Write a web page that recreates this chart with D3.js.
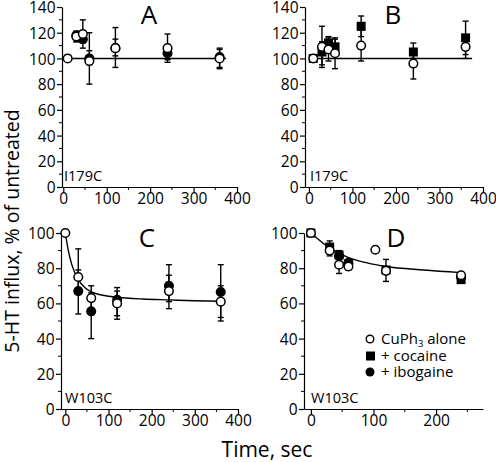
<!DOCTYPE html>
<html><head><meta charset="utf-8">
<script src="https://cdn.jsdelivr.net/npm/d3@7"></script>
<style>
body{margin:0;background:#fff;}
svg{display:block;font-family:"Open Sans",sans-serif;}
</style></head>
<body><svg id="c" width="496" height="462"></svg>
<script>
// ---------- DATA ----------
// Panel A: I179C, CuPh3 alone (open) and + ibogaine (filled circle)
const timesA = [10, 30, 45, 60, 120, 240, 360];
const aloneA   = [100, 117, 119, 98, 108, 108, 100];
const aloneA_lo= [null,113, 112, 80, 93, 99, 93];
const aloneA_hi= [null,121, 130, 120,124,119,107];
const timesAi = [30, 45, 60, 120, 240, 360];
const ibogA    = [118, 115, 100, 108, 104, 101];
const ibogA_lo = [113, 108, 95, 102, 97, 92];
const ibogA_hi = [121, 121, 106, 115, 108, 108];
const fitA_t = [10, 375];
const fitA_v = [100, 100];

// Panel B: I179C, CuPh3 alone (open) and + cocaine (filled square)
const timesB = [10, 30, 45, 60, 120, 240, 360];
const aloneB   = [100, 109, 107, 104, 110, 96, 109];
const aloneB_lo= [null, 95, 98, 92, 98, 84, 100];
const aloneB_hi= [null, 125, 116, 115, 122, 104, 118];
const cocB     = [100, 105, 112, 109, 125, 105, 116];
const cocB_lo  = [null, 93, 106, 103, 117, 100, 103];
const cocB_hi  = [null, 113, 117, 116, 133, 112, 129];
const fitB_t = [10, 375];
const fitB_v = [100, 100];

// Panel C: W103C, CuPh3 alone (open) and + ibogaine (filled circle)
const timesC = [0, 30, 60, 120, 240, 360];
const aloneC    = [100, 75, 63, 60, 67, 61];
const aloneC_lo = [null, 67, 57, 51, 57, 50];
const aloneC_hi = [null, 91, 70, 67, 76, 70];
const timesCi = [30, 60, 120, 240, 360];
const ibogC    = [67, 55.5, 62, 70, 66.5];
const ibogC_lo = [54, 40, 53, 61, 52];
const ibogC_hi = [79, 66, 69, 82, 82];
const fitC_t = [0, 7, 15, 30, 45, 60, 90, 120, 180, 240, 300, 360];
const fitC_v = [100, 90, 82, 73.5, 69, 66.5, 64.5, 63.5, 62.5, 62, 61.5, 61.2];

// Panel D: W103C, alone (open), + cocaine (square), + ibogaine (filled circle)
const timesD = [0, 30, 45, 60, 103, 120, 240];
const aloneD    = [100, 90, 82, 81, 90.5, 78.5, 76];
const aloneD_lo = [null, 87, 77, 79, null, 72.5, null];
const aloneD_hi = [null, 93, 86, 83, null, 85, null];
const timesDc = [0, 30, 45, 60, 120, 240];
const cocD    = [100, 92, 87.5, 82.5, 79, 73.5];
const cocD_lo = [null, 89, 85, null, null, null];
const cocD_hi = [null, 95.5, 90, null, null, null];
const timesDi = [45, 60, 240];
const ibogD   = [87, 83, 75];
const fitD_t = [0, 15, 30, 45, 60, 90, 120, 180, 240];
const fitD_v = [100, 95.5, 91.5, 88.5, 86, 83, 81, 79, 77.5];

const yTicksAB = [0, 20, 40, 60, 80, 100, 120, 140];
const yTicksCD = [0, 20, 40, 60, 80, 100];
const xTicks400 = [0, 100, 200, 300, 400];
const xTicks200 = [0, 100, 200];

const legendLabels = ["CuPh", "+ cocaine", "+ ibogaine"];

// ---------- DRAW ----------
const svg = d3.select("#c");
const TICKFONT = 15.5;

function pts(t, v, lo, hi){ return t.map((d,i)=>({t:d, v:v[i], lo: lo?lo[i]:null, hi: hi?hi[i]:null})); }

function panel(cfg){
  const g = svg.append("g");
  const x = d3.scaleLinear().domain(cfg.xd).range(cfg.xr);
  const y = d3.scaleLinear().domain(cfg.yd).range(cfg.yr);
  const ya = d3.axisLeft(y).tickValues(cfg.yTicks).tickSize(5).tickSizeOuter(0).tickPadding(1.5);
  const yg = g.append("g").attr("transform",`translate(${cfg.xr[0]},0)`).call(ya);
  const yMinor = d3.range(cfg.yd[0]+10, cfg.yd[1], 20);
  g.selectAll(".ym").data(yMinor).join("line")
    .attr("x1",cfg.xr[0]-3).attr("x2",cfg.xr[0]).attr("y1",d=>y(d)).attr("y2",d=>y(d))
    .attr("stroke","#000").attr("stroke-width",1);
  const xa = d3.axisBottom(x).tickValues(cfg.xTicks).tickSize(5).tickSizeOuter(0).tickPadding(1);
  const xg = g.append("g").attr("transform",`translate(0,${cfg.yr[0]})`).call(xa);
  const xMinor = cfg.xTicks.slice(0,-1).map(d=>d+50).concat(cfg.extraMinor||[]);
  g.selectAll(".xm").data(xMinor).join("line")
    .attr("x1",d=>x(d)).attr("x2",d=>x(d)).attr("y1",cfg.yr[0]).attr("y2",cfg.yr[0]+3)
    .attr("stroke","#000").attr("stroke-width",1);
  [yg,xg].forEach(a=>{
    a.selectAll("path,line").attr("stroke","#000").attr("stroke-width",1.2);
    a.selectAll("text").attr("font-size",TICKFONT).attr("fill","#000").attr("font-family","Open Sans");
  });
  yg.selectAll("text").attr("dy","0.36em");
  g.append("path").datum(cfg.fit).attr("fill","none").attr("stroke","#000").attr("stroke-width",1.4)
    .attr("d", d3.line().x(d=>x(d[0])).y(d=>y(d[1])).curve(d3.curveMonotoneX));
  cfg.series.forEach(s=>{
    const eb = s.data.filter(d=>d.lo!=null);
    const eg = g.append("g").attr("stroke","#000").attr("stroke-width",1.4);
    eb.forEach(d=>{
      eg.append("line").attr("x1",x(d.t)).attr("x2",x(d.t)).attr("y1",y(d.lo)).attr("y2",y(d.hi));
      eg.append("line").attr("x1",x(d.t)-3).attr("x2",x(d.t)+3).attr("y1",y(d.lo)).attr("y2",y(d.lo));
      eg.append("line").attr("x1",x(d.t)-3).attr("x2",x(d.t)+3).attr("y1",y(d.hi)).attr("y2",y(d.hi));
    });
  });
  cfg.series.forEach(s=>{
    s.data.forEach(d=>{
      if(s.shape==="square"){
        g.append("rect").attr("x",x(d.t)-4.5).attr("y",y(d.v)-4.5).attr("width",9).attr("height",9).attr("fill","#000");
      } else {
        g.append("circle").attr("cx",x(d.t)).attr("cy",y(d.v)).attr("r",4.3)
          .attr("fill",s.open?"#fff":"#000").attr("stroke","#000").attr("stroke-width",1.5);
      }
    });
  });
  g.append("text").attr("x",cfg.letter[0]).attr("y",cfg.letter[1]).attr("font-size",26)
    .attr("text-anchor","middle").attr("fill","#000").text(cfg.name);
  g.append("text").attr("x",cfg.mut[0]).attr("y",cfg.mut[1]).attr("font-size",cfg.mutSize)
    .attr("fill","#000").text(cfg.mutName);
  return {x,y,g};
}

panel({xd:[-3,400], xr:[62,237], yd:[0,140], yr:[187,7], yTicks:yTicksAB, xTicks:xTicks400,
  fit: fitA_t.map((t,i)=>[t,fitA_v[i]]),
  series:[
    {shape:"circle", open:false, data:pts(timesAi, ibogA, ibogA_lo, ibogA_hi)},
    {shape:"circle", open:true, data:pts(timesA, aloneA, aloneA_lo, aloneA_hi)}
  ], name:"A", letter:[149,24], mutName:"I179C", mutSize:14.5, mut:[64,181]});

panel({xd:[-9,400], xr:[305,483], yd:[0,140], yr:[187,7], yTicks:yTicksAB, xTicks:xTicks400,
  fit: fitB_t.map((t,i)=>[t,fitB_v[i]]),
  series:[
    {shape:"square", data:pts(timesB, cocB, cocB_lo, cocB_hi)},
    {shape:"circle", open:true, data:pts(timesB, aloneB, aloneB_lo, aloneB_hi)}
  ], name:"B", letter:[393,24], mutName:"I179C", mutSize:14.5, mut:[310,181]});

panel({xd:[-10,400], xr:[61,238], yd:[0,100], yr:[409,233], yTicks:yTicksCD, xTicks:xTicks400,
  fit: fitC_t.map((t,i)=>[t,fitC_v[i]]),
  series:[
    {shape:"circle", open:false, data:pts(timesCi, ibogC, ibogC_lo, ibogC_hi)},
    {shape:"circle", open:true, data:pts(timesC, aloneC, aloneC_lo, aloneC_hi)}
  ], name:"C", letter:[147,247], mutName:"W103C", mutSize:14.5, mut:[65,403]});

panel({xd:[-11,275], xr:[304,483], yd:[0,100], yr:[409,233], yTicks:yTicksCD, xTicks:xTicks200,
  extraMinor:[250],
  fit: fitD_t.map((t,i)=>[t,fitD_v[i]]),
  series:[
    {shape:"square", data:pts(timesDc, cocD, cocD_lo, cocD_hi)},
    {shape:"circle", open:false, data:pts(timesDi, ibogD, null, null)},
    {shape:"circle", open:true, data:pts(timesD, aloneD, aloneD_lo, aloneD_hi)}
  ], name:"D", letter:[396,247], mutName:"W103C", mutSize:14.5, mut:[311,403]});

// legend
const lg = svg.append("g").attr("font-size",15).attr("fill","#000");
const ly = [339, 356, 372];
lg.append("circle").attr("cx",370).attr("cy",ly[0]).attr("r",3.8).attr("fill","#fff").attr("stroke","#000").attr("stroke-width",1.4);
lg.append("rect").attr("x",366).attr("y",ly[1]-4.5).attr("width",9).attr("height",9).attr("fill","#000");
lg.append("circle").attr("cx",370).attr("cy",ly[2]).attr("r",4.5).attr("fill","#000");
const t0 = lg.append("text").attr("x",381).attr("y",ly[0]+5);
t0.append("tspan").text(legendLabels[0]);
t0.append("tspan").attr("font-size",9.5).attr("dy",3).text("3");
t0.append("tspan").attr("dy",-3).text(" alone");
lg.append("text").attr("x",381).attr("y",ly[1]+5).text(legendLabels[1]);
lg.append("text").attr("x",381).attr("y",ly[2]+5).text(legendLabels[2]);

// axis titles
svg.append("text").attr("transform","translate(19,231) rotate(-90)").attr("text-anchor","middle")
  .attr("font-size",19.5).attr("fill","#000").text("5-HT influx, % of untreated");
svg.append("text").attr("x",267).attr("y",457).attr("text-anchor","middle").attr("font-size",21)
  .attr("fill","#000").text("Time, sec");
</script></body></html>
